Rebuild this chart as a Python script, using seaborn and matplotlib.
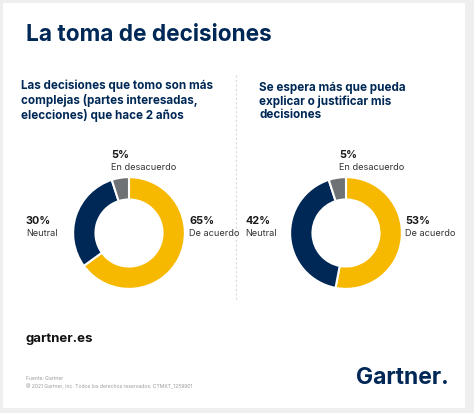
import matplotlib
matplotlib.use("Agg")
import matplotlib.pyplot as plt
import seaborn as sns
from matplotlib.patches import Rectangle
from matplotlib.lines import Line2D

# data
categories = ["De acuerdo", "Neutral", "En desacuerdo"]
left_values = [65, 30, 5]
right_values = [53, 42, 5]
left_question = "Las decisiones que tomo son más\ncomplejas (partes interesadas,\nelecciones) que hace 2 años"
right_question = "Se espera más que pueda\nexplicar o justificar mis\ndecisiones"

sns.set_style("white")
plt.rcParams["font.family"] = ["Inter", "DejaVu Sans"]

navy = "#002856"
colors = ["#F7B800", navy, "#6F7274"]

W, H = 474, 413
fig = plt.figure(figsize=(W / 100, H / 100), dpi=100)
fig.patch.set_facecolor("#EFEFEF")


def fx(x):
    return x / W


def fy(y):
    return 1 - y / H


# white card
fig.patches.append(Rectangle((fx(3), fy(408)), fx(462), (405) / H,
                             transform=fig.transFigure, facecolor="white",
                             edgecolor="none", zorder=-5))
# dashed divider
fig.lines.append(Line2D([fx(236), fx(236)], [fy(75), fy(300)],
                        transform=fig.transFigure, color="#DADADA",
                        lw=0.8, ls=(0, (2, 2)), zorder=-1))

fig.text(fx(26), fy(35), "La toma de decisiones", fontsize=16.3,
         fontweight="bold", color=navy, va="center", ha="left")

fig.text(fx(21), fy(80), left_question, fontsize=8.4, fontweight="bold",
         color=navy, va="top", ha="left", linespacing=1.15)
fig.text(fx(259), fy(82), right_question, fontsize=8.4, fontweight="bold",
         color=navy, va="top", ha="left", linespacing=1.15)


def donut(cx, cy, r, values):
    ax = fig.add_axes([fx(cx - r), fy(cy + r), 2 * r / W, 2 * r / H])
    ax.pie(values, colors=colors, startangle=90, counterclock=False,
           wedgeprops=dict(width=0.4, edgecolor="white", linewidth=1.5))
    ax.set_xlim(-1.02, 1.02)
    ax.set_ylim(-1.02, 1.02)
    ax.set_aspect("equal")
    ax.axis("off")


def label(x, y, value, name):
    fig.text(fx(x), fy(y), f"{value}%", fontsize=7.8, fontweight="bold",
             color="#1A1A1A", va="center", ha="left")
    fig.text(fx(x), fy(y + 13), name, fontsize=6.6, color="#333333",
             va="center", ha="left")


donut(129, 233, 57, left_values)
donut(346, 233, 57, right_values)

label(111, 155, left_values[2], categories[2])
label(26, 221, left_values[1], categories[1])
label(189, 221, left_values[0], categories[0])

label(339, 155, right_values[2], categories[2])
label(245, 221, right_values[1], categories[1])
label(405, 221, right_values[0], categories[0])

fig.text(fx(26), fy(339), "gartner.es", fontsize=9.5, fontweight="bold",
         color="#111111", va="center", ha="left")
fig.text(fx(26), fy(379), "Fuente: Gartner", fontsize=3.6,
         color="#9A9A9A", va="center", ha="left")
fig.text(fx(26), fy(386),
         "© 2021 Gartner, Inc. Todos los derechos reservados. CTMKT_1259901",
         fontsize=3.6, color="#9A9A9A", va="center", ha="left")
fig.text(fx(449), fy(378), "Gartner.", fontsize=16.5, fontweight="bold",
         color=navy, va="center", ha="right")

fig.savefig("out.png", dpi=100, facecolor=fig.get_facecolor())
